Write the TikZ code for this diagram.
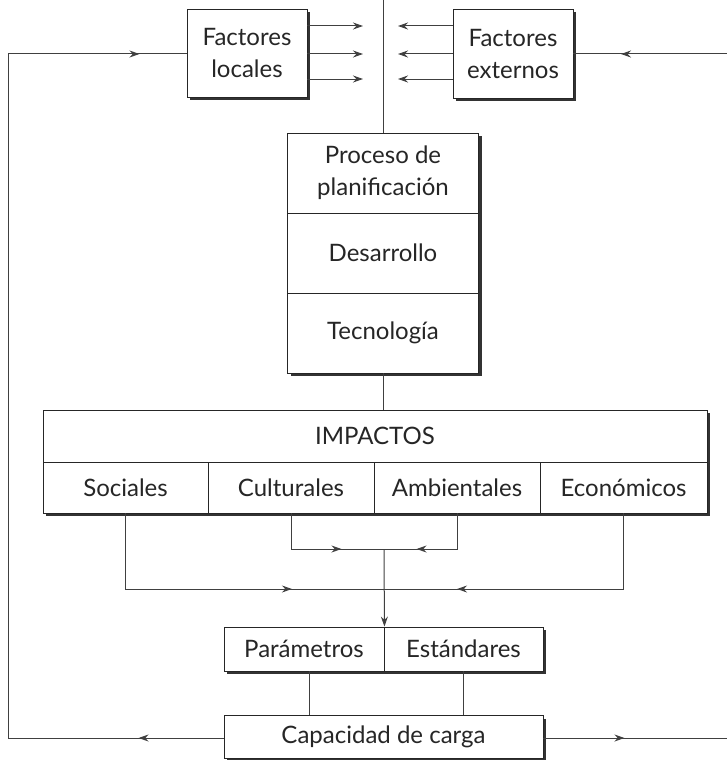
\documentclass[tikz,border=0pt]{standalone}
\usepackage{fontspec}
\setmainfont{Lato}
\usepackage{tikz}
\usetikzlibrary{arrows.meta,decorations.markings,shadows}
\tikzset{caja/.style={draw=black!85, fill=white, line width=0.9pt, inner sep=0pt, align=center, text=black!85,
    drop shadow={shadow xshift=3pt, shadow yshift=-3pt, fill=black!80, opacity=1}}}
\tikzset{linea/.style={draw=black!75, line width=1pt}}
\tikzset{punta/.style={-{Stealth[length=10pt,width=7pt]}}}
\tikzset{flecha/.style={postaction={decorate, decoration={markings,
    mark=at position #1 with {\arrow{Stealth[length=10pt,width=7pt]}}}}}}

\begin{document}
\begin{tikzpicture}[x=1pt, y=-1pt, font=\fontsize{24}{32}\selectfont]
	\useasboundingbox (0,0) rectangle (727,760);
	
	% factores
	\node[caja, minimum width=120pt, minimum height=88pt] (loc) at (247,53) {Factores\\locales};
	\node[caja, minimum width=120pt, minimum height=89pt] (ext) at (513,53.5) {Factores\\externos};
	
	% proceso
	\begin{scope}[minimum width=191pt, minimum height=80pt]
		\node[caja] (proc) at (383,173) {Proceso de\\planificación};
		\node[caja] (desa) at (383,253) {Desarrollo};
		\node[caja] (tecn) at (383,333) {Tecnología};
	\end{scope}
	
	% impactos
	\node[caja, minimum width=664pt, minimum height=52pt] (imp) at (375,436) {IMPACTOS};
	\begin{scope}[minimum height=51pt]
		\node[caja, minimum width=165pt] (soc) at (125.5,487.5) {Sociales};
		\node[caja, minimum width=166pt] (cul) at (291,487.5) {Culturales};
		\node[caja, minimum width=166pt] (amb) at (457,487.5) {Ambientales};
		\node[caja, minimum width=167pt] (eco) at (623.5,487.5) {Económicos};
	\end{scope}
	
	% parametros y capacidad
	\begin{scope}[minimum height=44pt]
		\node[caja, minimum width=160pt] (par) at (304,649) {Parámetros};
		\node[caja, minimum width=159pt] (est) at (463.5,649) {Estándares};
	\end{scope}
	\node[caja, minimum width=319pt, minimum height=43pt] (cap) at (383.5,737) {Capacidad de carga};
	
	\coordinate (arr) at (383,0);
	\coordinate (j1) at (384,549);
	\coordinate (j2) at (384,589);
	\coordinate (izqa) at (8,738);
	\coordinate (izqb) at (8,54);
	\coordinate (dera) at (727,54);
	\coordinate (derb) at (727,738);
	
	\foreach \y [count=\i] in {26,54,79} {
		\coordinate (l\i) at (363,\y);
		\coordinate (e\i) at (398,\y);
		\draw[linea, punta] (loc.east |- l\i) -- (l\i);
		\draw[linea, punta] (ext.west |- e\i) -- (e\i);
	}
	
	\draw[linea] (arr) -- (proc.north);
	\draw[linea] (tecn.south) -- (tecn.south |- imp.north);
	
	\draw[linea, flecha=86pt] (cul.south) -- (cul.south |- j1) -- (j1);
	\draw[linea, flecha=76pt] (amb.south) -- (amb.south |- j1) -- (j1);
	\draw[linea, flecha=242pt] (soc.south) -- (soc.south |- j2) -- (j2);
	\draw[linea, flecha=242pt] (eco.south) -- (eco.south |- j2) -- (j2);
	\draw[linea, punta] (j1) -- (par.north east);
	
	\draw[linea] ([xshift=5pt]par.south) -- ([xshift=5pt]par.south |- cap.north);
	\draw[linea] (est.south) -- (est.south |- cap.north);
	
	\draw[linea, flecha=85pt, flecha=1031pt] (cap.west |- izqa) -- (izqa) -- (izqb) -- (loc.west |- izqb);
	\draw[linea, flecha=106pt] (dera) -- (ext.east |- dera);
	\draw[linea, flecha=81pt] (cap.east |- derb) -- (derb);
\end{tikzpicture}
\end{document}
